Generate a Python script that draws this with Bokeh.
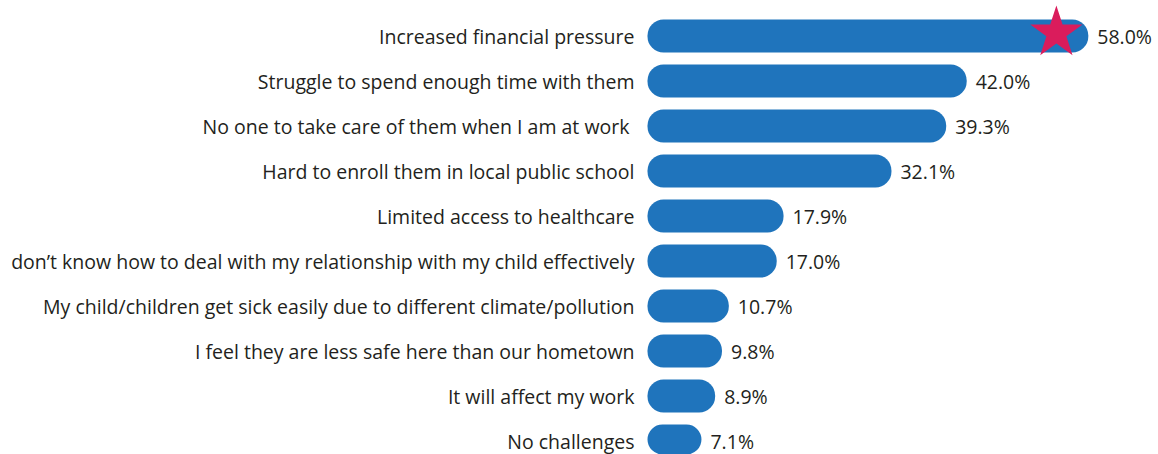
from bokeh.plotting import figure
from bokeh.models import ColumnDataSource, Range1d
from bokeh.core.properties import value
from bokeh.embed import file_html
from bokeh.resources import INLINE

labels = [
    "Increased financial pressure",
    "Struggle to spend enough time with them",
    "No one to take care of them when I am at work ",
    "Hard to enroll them in local public school",
    "Limited access to healthcare",
    "don’t know how to deal with my relationship with my child effectively",
    "My child/children get sick easily due to different climate/pollution",
    "I feel they are less safe here than our hometown",
    "It will affect my work",
    "No challenges",
]
values = [58.0, 42.0, 39.3, 32.1, 17.9, 17.0, 10.7, 9.8, 8.9, 7.1]
value_labels = [f"{v:.1f}%" for v in values]

W, H = 1158, 454
x0_px = 647.0      # pixel where 0 lies
px_per_unit = 7.6
row_px = 45.0
top_center_px = 35.5

ypos = list(range(len(labels)))
src = ColumnDataSource(dict(y=ypos, v=values, lab=labels, vl=value_labels, zero=[0] * len(values)))

p = figure(width=W, height=H, output_backend="svg", toolbar_location=None,
           x_range=Range1d(-x0_px / px_per_unit, (W - x0_px) / px_per_unit),
           y_range=Range1d(-top_center_px / row_px + H / row_px, -top_center_px / row_px),
           min_border=0, outline_line_color=None)
p.axis.visible = False
p.grid.visible = False
p.background_fill_color = "white"
p.border_fill_color = "white"

p.hbar(y="y", left="zero", right="v", height=33 / row_px, source=src,
       fill_color="#1F74BC", line_color=None, border_radius=16)

font = value("Open Sans")
p.text(x="zero", y="y", text="lab", source=src, x_offset=-13, text_align="right",
       text_baseline="middle", text_font=font, text_font_size="19.5px", text_color="#231F20")
p.text(x="v", y="y", text="vl", source=src, x_offset=9, text_align="left",
       text_baseline="middle", text_font=font, text_font_size="19.5px", text_color="#231F20")

star_x = [values[0] - 4.2]
star_y = [ypos[0] - 3.0 / row_px]
p.scatter(x=star_x, y=star_y, marker="star", size=55, fill_color="#DA1C5C", line_color=None)

open("out.html", "w").write(file_html(p, INLINE))
